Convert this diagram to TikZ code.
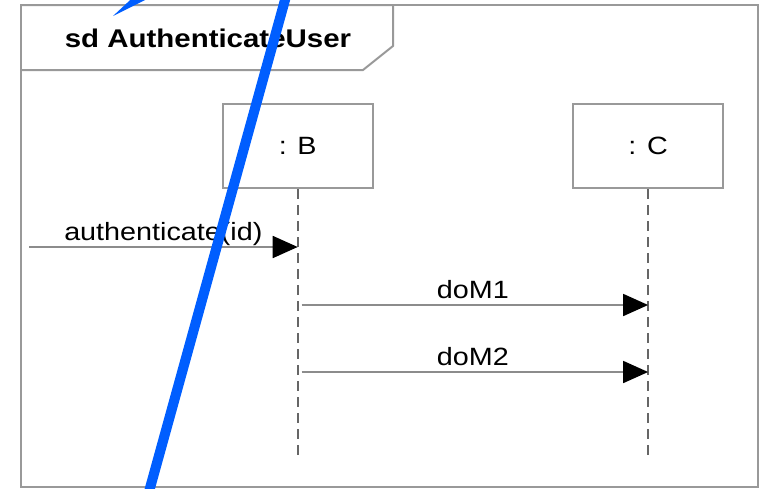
\documentclass[tikz,border=0pt]{standalone}
\usepackage{fontspec}
\setmainfont[FakeStretch=1.15]{Liberation Sans}
\usetikzlibrary{positioning, arrows.meta}
\definecolor{markblue}{RGB}{0,94,255}

\begin{document}
\begin{tikzpicture}[x=0.5pt, y=-0.5pt, node distance=99.3pt,
    every node/.style={font=\fontsize{12.5}{15}\selectfont},
    obj/.style={draw=black!40, line width=0.9pt, minimum width=75pt, minimum height=42pt, inner sep=0pt},
    life/.style={draw=black!60, line width=0.9pt, dash pattern=on 5pt off 3pt},
    msg/.style={draw=black!45, line width=0.9pt, -{Triangle[length=12.5pt, width=11pt, black]}},
    lbl/.style={above=3pt, inner sep=0pt, text depth=0pt}]
    \useasboundingbox (0,0) rectangle (764,488);

    % frame with the sd tab
    \draw[black!40, line width=1pt] (21,5) rectangle (758,487);
    \draw[black!40, line width=1pt] (21,5) -- (393,5) -- (393,46) -- (363,70) -- (21,70);
    \node[font=\fontsize{12.8}{15}\selectfont\bfseries] (title) at (208,38) {sd AuthenticateUser};

    % objects and lifelines
    \node[obj] (B) at (297.7,146.3) {: B};
    \node[obj, right=of B] (C) {: C};
    \coordinate (bottom) at (0,456);
    \draw[life] (B) -- (B |- bottom);
    \draw[life] (C) -- (C |- bottom);

    % messages
    \coordinate (in) at (29,247);
    \coordinate (m1) at (0,305);
    \coordinate (m2) at (0,372);
    \draw[msg] (in) -- node[lbl] {authenticate(id)} (B |- in);
    \draw[msg, shorten <=2pt] (B |- m1) -- node[lbl] {doM1} (C |- m1);
    \draw[msg, shorten <=2pt] (B |- m2) -- node[lbl] {doM2} (C |- m2);

    % blue pen marks
    \begin{scope}
        \clip (0,0) rectangle (764,488);
        \draw[markblue, line width=5pt] (146.7,500) -- (288.3,-12);
        \fill[markblue] (113,16) -- (141,-10) -- (165,-10) -- cycle;
    \end{scope}
\end{tikzpicture}
\end{document}
